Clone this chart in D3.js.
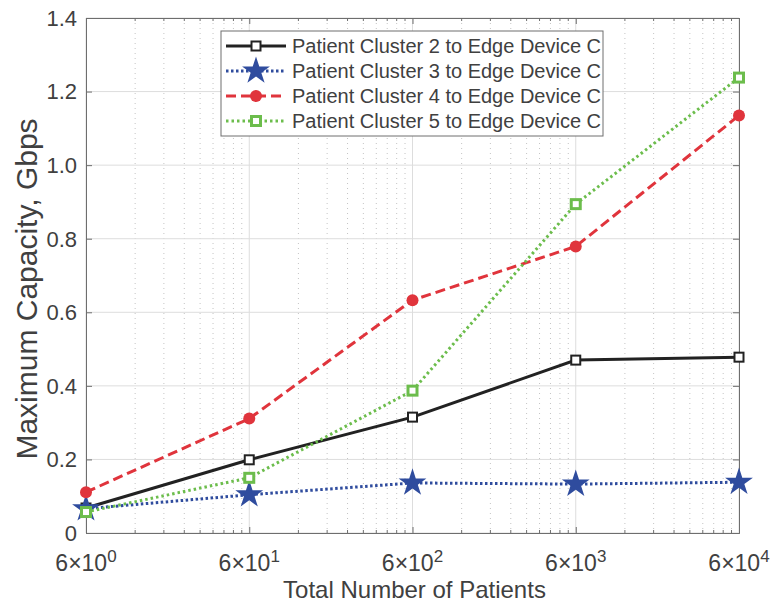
<!DOCTYPE html>
<html>
<head>
<meta charset="utf-8">
<script src="https://cdn.jsdelivr.net/npm/d3@7"></script>
<style>
  body { margin: 0; background: #fff; }
  svg { font-family: "Liberation Sans", Arial, sans-serif; }
</style>
</head>
<body>
<svg id="chart" width="775" height="607"></svg>
<script>
// dados
const patients = [6, 60, 600, 6000, 60000];
const cluster2 = [0.068, 0.199, 0.315, 0.470, 0.478];
const cluster3 = [0.066, 0.104, 0.136, 0.133, 0.138];
const cluster4 = [0.111, 0.311, 0.633, 0.779, 1.135];
const cluster5 = [0.057, 0.150, 0.387, 0.894, 1.238];
const yTicks = [0, 0.2, 0.4, 0.6, 0.8, 1.0, 1.2, 1.4];
const xExponents = [0, 1, 2, 3, 4];
const seriesNames = [
  "Patient Cluster 2 to Edge Device C",
  "Patient Cluster 3 to Edge Device C",
  "Patient Cluster 4 to Edge Device C",
  "Patient Cluster 5 to Edge Device C"
];

const series = [
  { nome: seriesNames[0], valores: cluster2, cor: "#222222", dash: null, marcador: "squareOpen" },
  { nome: seriesNames[1], valores: cluster3, cor: "#2f4c9e", dash: "2.5,2.5", marcador: "star" },
  { nome: seriesNames[2], valores: cluster4, cor: "#e0343c", dash: "10,5", marcador: "circle" },
  { nome: seriesNames[3], valores: cluster5, cor: "#6cbd4c", dash: "2.5,3", marcador: "squareGreen" }
];

const margin = { top: 18, right: 36, bottom: 74, left: 86 };
const width = 775, height = 607;
const innerW = width - margin.left - margin.right;
const innerH = height - margin.top - margin.bottom;

const svg = d3.select("#chart");
const g = svg.append("g").attr("transform", `translate(${margin.left},${margin.top})`);

const x = d3.scaleLog().domain([6, 60000]).range([0, innerW]);
const y = d3.scaleLinear().domain([0, 1.4]).range([innerH, 0]);

// grade menor (6*k*10^n)
const minor = [];
patients.slice(0, -1).forEach(p => { for (let k = 2; k <= 9; k++) minor.push(p * k); });

g.append("g").selectAll("line").data(minor).enter().append("line")
  .attr("x1", d => x(d)).attr("x2", d => x(d))
  .attr("y1", 0).attr("y2", innerH)
  .attr("stroke", "#c4c4c4").attr("stroke-width", 1).attr("stroke-dasharray", "1,4");

// grade maior
g.append("g").selectAll("line").data(patients).enter().append("line")
  .attr("x1", d => x(d)).attr("x2", d => x(d))
  .attr("y1", 0).attr("y2", innerH)
  .attr("stroke", "#dddddd").attr("stroke-width", 1);
g.append("g").selectAll("line").data(yTicks).enter().append("line")
  .attr("x1", 0).attr("x2", innerW)
  .attr("y1", d => y(d)).attr("y2", d => y(d))
  .attr("stroke", "#dddddd").attr("stroke-width", 1);

// eixos com ticks para dentro
const tickCol = "#6e6e6e";
const axB = g.append("g").attr("transform", `translate(0,${innerH})`)
  .call(d3.axisBottom(x).tickValues(patients).tickSize(-6).tickFormat(""));
const axT = g.append("g")
  .call(d3.axisTop(x).tickValues(patients).tickSize(-6).tickFormat(""));
const axL = g.append("g")
  .call(d3.axisLeft(y).tickValues(yTicks).tickSize(-6).tickFormat(""));
const axR = g.append("g").attr("transform", `translate(${innerW},0)`)
  .call(d3.axisRight(y).tickValues(yTicks).tickSize(-6).tickFormat(""));
[axB, axT, axL, axR].forEach(a => {
  a.select(".domain").attr("stroke", tickCol).attr("stroke-width", 1);
  a.selectAll(".tick line").attr("stroke", tickCol);
});
// ticks menores
axB.append("g").selectAll("line").data(minor).enter().append("line")
  .attr("x1", d => x(d)).attr("x2", d => x(d)).attr("y1", 0).attr("y2", -3).attr("stroke", tickCol);
axT.append("g").selectAll("line").data(minor).enter().append("line")
  .attr("x1", d => x(d)).attr("x2", d => x(d)).attr("y1", 0).attr("y2", 3).attr("stroke", tickCol);

// rótulos
const textCol = "#404040";
g.append("g").selectAll("text").data(yTicks).enter().append("text")
  .attr("x", -9).attr("y", d => y(d)).attr("dy", "0.36em")
  .attr("text-anchor", "end").attr("fill", textCol).attr("font-size", 22)
  .text(d => d === 0 ? "0" : d.toFixed(1));

const xl = g.append("g").selectAll("text").data(xExponents).enter().append("text")
  .attr("x", (d, i) => x(patients[i])).attr("y", innerH + 38)
  .attr("text-anchor", "middle").attr("fill", textCol).attr("font-size", 23);
xl.append("tspan").text("6×10");
xl.append("tspan").attr("dy", -9).attr("font-size", 17).text(d => d);

g.append("text").attr("x", 414.5 - margin.left).attr("y", innerH + 65)
  .attr("text-anchor", "middle").attr("fill", textCol).attr("font-size", 24)
  .text("Total Number of Patients");
svg.append("text").attr("transform", "translate(37,289) rotate(-90)")
  .attr("text-anchor", "middle").attr("fill", textCol).attr("font-size", 30)
  .text("Maximum Capacity, Gbps");

// marcadores
const star = d3.symbol().type(d3.symbolStar).size(240);
function desenhaMarcador(sel, s) {
  if (s.marcador === "squareOpen") {
    sel.append("rect").attr("x", -4.5).attr("y", -4.5).attr("width", 9).attr("height", 9)
      .attr("fill", "#fff").attr("stroke", s.cor).attr("stroke-width", 2);
  } else if (s.marcador === "squareGreen") {
    sel.append("rect").attr("x", -4.5).attr("y", -4.5).attr("width", 9).attr("height", 9)
      .attr("fill", "#fff").attr("stroke", s.cor).attr("stroke-width", 3);
  } else if (s.marcador === "star") {
    sel.append("path").attr("d", star).attr("fill", s.cor);
  } else {
    sel.append("circle").attr("r", 6).attr("fill", s.cor);
  }
}

const linha = d3.line().x(d => x(d[0])).y(d => y(d[1]));
series.forEach(s => {
  const pts = patients.map((p, i) => [p, s.valores[i]]);
  g.append("path").datum(pts).attr("d", linha)
    .attr("fill", "none").attr("stroke", s.cor).attr("stroke-width", 3)
    .attr("stroke-dasharray", s.dash);
  g.append("g").selectAll("g").data(pts).enter().append("g")
    .attr("transform", d => `translate(${x(d[0])},${y(d[1])})`)
    .each(function () { desenhaMarcador(d3.select(this), s); });
});

// legenda
const leg = svg.append("g").attr("transform", "translate(221,31)");
leg.append("rect").attr("width", 382).attr("height", 105)
  .attr("fill", "#fff").attr("stroke", "#6e6e6e").attr("stroke-width", 1);
series.forEach((s, i) => {
  const row = leg.append("g").attr("transform", `translate(0,${15 + i * 25})`);
  row.append("line").attr("x1", 5).attr("x2", 65).attr("y1", 0).attr("y2", 0)
    .attr("stroke", s.cor).attr("stroke-width", 3).attr("stroke-dasharray", s.dash);
  const m = row.append("g").attr("transform", "translate(35,0)");
  desenhaMarcador(m, s);
  row.append("text").attr("x", 71).attr("y", 0).attr("dy", "0.36em")
    .attr("fill", textCol).attr("font-size", 20).text(s.nome);
});
</script>
</body>
</html>
